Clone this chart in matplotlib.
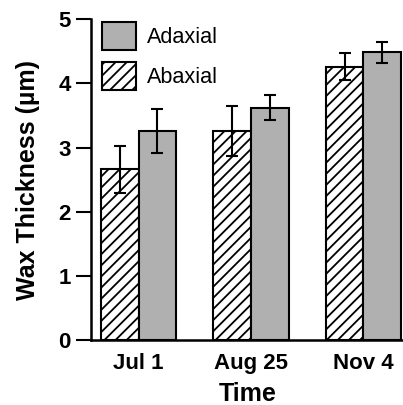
import matplotlib
matplotlib.use("Agg")
import matplotlib.pyplot as plt
import numpy as np

categories = ["Jul 1", "Aug 25", "Nov 4"]
abaxial = [2.66, 3.26, 4.26]
abaxial_err = [0.37, 0.39, 0.21]
adaxial = [3.26, 3.62, 4.48]
adaxial_err = [0.34, 0.19, 0.16]

plt.rcParams['font.family'] = ['Liberation Sans', 'DejaVu Sans']
plt.rcParams['hatch.linewidth'] = 1.3
plt.rcParams['hatch.color'] = '#333333'

fig = plt.figure(figsize=(4.03, 4.05), dpi=100)
ax = fig.add_axes([0.225, 0.160, 0.78, 0.793])

x = np.arange(len(categories))
w = 0.336
ekw = dict(elinewidth=1.5, capthick=1.5, ecolor='black')
b1 = ax.bar(x - w/2, abaxial, w, yerr=abaxial_err, capsize=4.5, color='white',
            edgecolor='black', linewidth=1.5, hatch='///', error_kw=ekw, label='Abaxial', zorder=2)
b2 = ax.bar(x + w/2, adaxial, w, yerr=adaxial_err, capsize=4.5, color='#b0b0b0',
            edgecolor='black', linewidth=1.5, error_kw=ekw, label='Adaxial', zorder=2)

ax.set_xlim(-0.426, 2.37)
ax.set_ylim(0, 5)
ax.set_yticks([0, 1, 2, 3, 4, 5])
ax.set_xticks(x)
ax.set_xticklabels(categories, fontsize=16, fontweight='bold')
ax.tick_params(axis='x', length=0, pad=9)
ax.tick_params(axis='y', length=10.5, width=1.5, labelsize=16, pad=4)
for lab in ax.get_yticklabels():
    lab.set_fontweight('bold')
for s in ['top', 'right']:
    ax.spines[s].set_visible(False)
for s in ['left', 'bottom']:
    ax.spines[s].set_linewidth(1.8)

ax.set_ylabel('Wax Thickness (µm)', fontsize=18, fontweight='bold', labelpad=13)
ax.set_xlabel('Time', fontsize=18, fontweight='bold', labelpad=6)

leg = ax.legend(handles=[b2, b1], labels=['Adaxial', 'Abaxial'], loc='upper left',
                bbox_to_anchor=(0.035, 0.99), frameon=False, fontsize=15.6,
                handlelength=1.6, handleheight=1.6, labelspacing=0.55,
                handletextpad=0.5, borderaxespad=0.0, borderpad=0.0)

fig.savefig('out.png', dpi=100)
